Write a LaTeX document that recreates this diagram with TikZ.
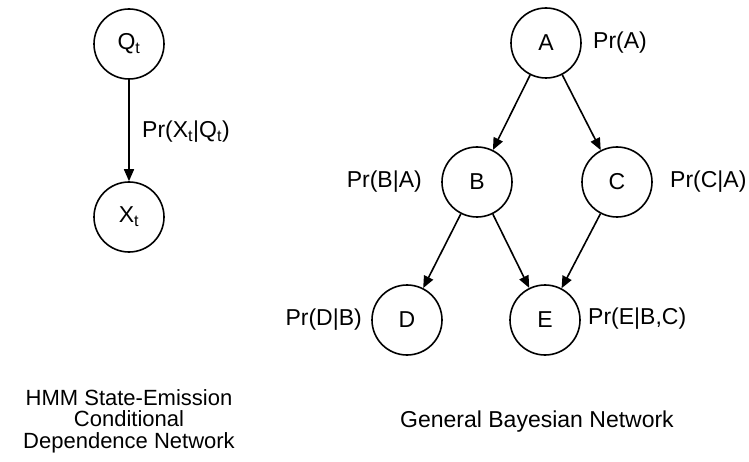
\documentclass[tikz,border=0pt]{standalone}
\usepackage{fontspec}
\setmainfont{Liberation Sans}
\usetikzlibrary{arrows.meta}
\begin{document}
\begin{tikzpicture}[x=1pt,y=-1pt,
  var/.style={circle,draw,line width=1.6pt,minimum size=70pt,inner sep=0pt,font=\fontsize{23}{23}\selectfont},
  lbl/.style={font=\fontsize{23}{23}\selectfont,inner sep=0pt},
  captext/.style={font=\fontsize{22}{21.5}\selectfont,align=center,inner sep=0pt},
  arc/.style={line width=1.6pt,-{Triangle[length=12pt,width=10pt]}}]
\useasboundingbox (0,0) rectangle (749,462);
% HMM
\node[var] (Q) at (129,44) {Q\textsubscript{t}};
\node[var] (X) at (129,217) {X\textsubscript{t}};
\draw[arc] (Q) -- (X);
\node[lbl,anchor=west] (lqx) at (142,132) {Pr(X\textsubscript{t}|Q\textsubscript{t})};
\node[captext] (capl) at (129,421) {HMM State-Emission\\Conditional\\Dependence Network};
% Bayesian network
\node[var] (A) at (546,43) {A};
\node[var] (B) at (477,182) {B};
\node[var] (C) at (617,182) {C};
\node[var] (D) at (407,320) {D};
\node[var] (E) at (545,320) {E};
\draw[arc] (A) -- (B);
\draw[arc] (A) -- (C);
\draw[arc] (B) -- (D);
\draw[arc] (B) -- (E);
\draw[arc] (C) -- (E);
\node[lbl,anchor=west] (lA) at (593,43) {Pr(A)};
\node[lbl,anchor=east] (lB) at (422,182) {Pr(B|A)};
\node[lbl,anchor=west] (lC) at (670,182) {Pr(C|A)};
\node[lbl,anchor=east] (lD) at (362,320) {Pr(D|B)};
\node[lbl,anchor=west] (lE) at (588,319) {Pr(E|B,C)};
\node[lbl] (capr) at (537,422) {General Bayesian Network};
\end{tikzpicture}
\end{document}
